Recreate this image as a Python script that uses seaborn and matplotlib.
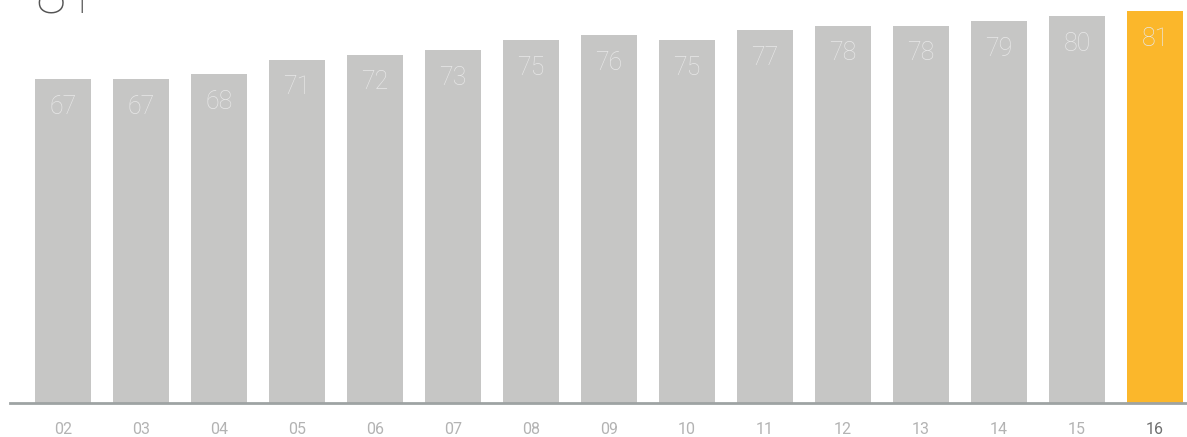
import matplotlib
matplotlib.use("Agg")
import matplotlib.pyplot as plt
import seaborn as sns
import pandas as pd

years = ["02", "03", "04", "05", "06", "07", "08", "09", "10", "11", "12", "13", "14", "15", "16"]
values = [67, 67, 68, 71, 72, 73, 75, 76, 75, 77, 78, 78, 79, 80, 81]
highlight = "16"
headline = "81"

gray = "#c6c6c5"
orange = "#fbb72b"
colors = [orange if y == highlight else gray for y in years]

sns.set_theme(style="white")
plt.rcParams["font.family"] = ["Roboto", "DejaVu Sans"]

df = pd.DataFrame({"year": years, "value": values})

fig = plt.figure(figsize=(11.87, 4.37), dpi=100)
ax = fig.add_axes([10 / 1187, (437 - 403) / 437, 1 - 10 / 1187, 403 / 437])

sns.barplot(data=df, x="year", y="value", hue="year", palette=colors,
            legend=False, ax=ax, width=0.72, saturation=1, linewidth=0)

ax.set_xlim(-0.68, 14.41)
ax.set_ylim(0, 83.3)
ax.set_xlabel("")
ax.set_ylabel("")
ax.set_yticks([])
for s in ["top", "right", "left"]:
    ax.spines[s].set_visible(False)
ax.spines["bottom"].set_color("#9ea3a3")
ax.spines["bottom"].set_linewidth(2)
ax.tick_params(axis="x", length=0, pad=14, labelsize=11.5)
for lbl in ax.get_xticklabels():
    lbl.set_color("#6f6f6f" if lbl.get_text() == highlight else "#b3b3b3")

for i, v in enumerate(values):
    ax.annotate(str(v), xy=(i, v), xytext=(0, -20), textcoords="offset points",
                ha="center", va="center", color="#e8e8e8", fontsize=18,
                fontweight="light")

fig.text(35 / 1187, 1 - 14 / 437, headline, ha="left", va="baseline",
         fontsize=40, color="#555555", fontweight="light")

fig.savefig("out.png", dpi=100)
